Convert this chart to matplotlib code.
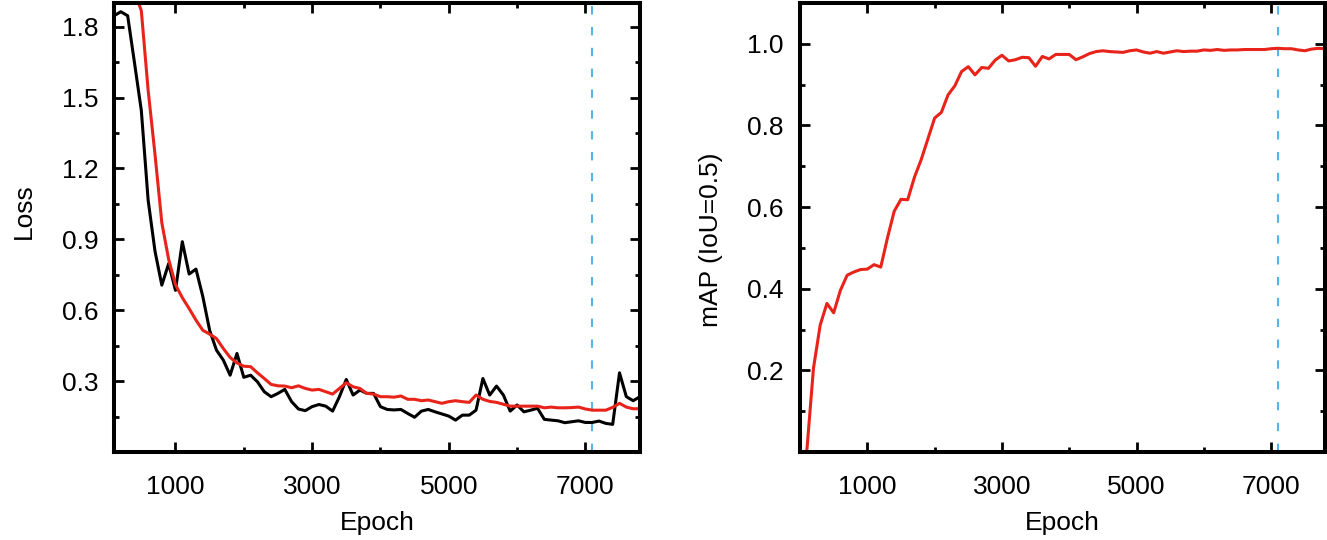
import matplotlib
matplotlib.use("Agg")
import matplotlib.pyplot as plt
from matplotlib.ticker import FixedLocator, NullFormatter, FormatStrFormatter

plt.rcParams['font.family'] = ['Liberation Sans', 'DejaVu Sans']

# ---------------- data ----------------
loss_epochs = list(range(100, 7900, 100))
train_loss = [1.846, 1.863, 1.846, 1.647, 1.445, 1.065, 0.850, 0.706, 0.797, 0.684,
              0.890, 0.753, 0.774, 0.658, 0.515, 0.431, 0.389, 0.325, 0.417, 0.316,
              0.325, 0.297, 0.255, 0.234, 0.248, 0.265, 0.213, 0.182, 0.175, 0.192,
              0.201, 0.194, 0.173, 0.234, 0.307, 0.241, 0.262, 0.248, 0.248, 0.192,
              0.180, 0.178, 0.180, 0.163, 0.147, 0.173, 0.180, 0.170, 0.161, 0.152,
              0.135, 0.156, 0.156, 0.177, 0.311, 0.241, 0.279, 0.241, 0.173, 0.199,
              0.170, 0.177, 0.185, 0.138, 0.135, 0.132, 0.124, 0.128, 0.132, 0.125,
              0.125, 0.131, 0.121, 0.117, 0.335, 0.234, 0.217, 0.234]
val_loss = [2.10, 2.04, 1.98, 1.95, 1.867, 1.53, 1.26, 0.97, 0.815, 0.708,
            0.653, 0.607, 0.558, 0.515, 0.499, 0.480, 0.438, 0.400, 0.377, 0.363,
            0.361, 0.335, 0.311, 0.286, 0.280, 0.279, 0.272, 0.280, 0.269, 0.262,
            0.265, 0.255, 0.245, 0.269, 0.293, 0.276, 0.269, 0.248, 0.245, 0.234,
            0.234, 0.232, 0.237, 0.223, 0.223, 0.217, 0.220, 0.213, 0.206, 0.213,
            0.217, 0.213, 0.210, 0.241, 0.223, 0.214, 0.210, 0.202, 0.194, 0.194,
            0.194, 0.194, 0.194, 0.187, 0.190, 0.187, 0.187, 0.188, 0.190, 0.182,
            0.177, 0.177, 0.177, 0.189, 0.206, 0.190, 0.183, 0.183]

map_epochs = list(range(0, 7900, 100))
map_values = [0.0, 0.0, 0.205, 0.311, 0.364, 0.341, 0.396, 0.433, 0.441, 0.447,
              0.448, 0.459, 0.453, 0.525, 0.590, 0.619, 0.618, 0.673, 0.716, 0.767,
              0.818, 0.832, 0.875, 0.897, 0.932, 0.944, 0.924, 0.942, 0.940, 0.960,
              0.972, 0.958, 0.961, 0.967, 0.966, 0.945, 0.969, 0.963, 0.974, 0.974,
              0.974, 0.961, 0.968, 0.976, 0.981, 0.983, 0.981, 0.980, 0.979, 0.983,
              0.985, 0.980, 0.977, 0.981, 0.977, 0.980, 0.983, 0.981, 0.982, 0.982,
              0.985, 0.984, 0.986, 0.984, 0.985, 0.985, 0.986, 0.986, 0.986, 0.986,
              0.988, 0.989, 0.988, 0.988, 0.985, 0.983, 0.987, 0.989, 0.988]

best_epoch = 7100

x_major = [1000, 3000, 5000, 7000]
x_minor = [2000, 4000, 6000]
loss_major = [0.3, 0.6, 0.9, 1.2, 1.5, 1.8]
loss_minor = [0.15, 0.45, 0.75, 1.05, 1.35, 1.65]
map_major = [0.2, 0.4, 0.6, 0.8, 1.0]
map_minor = [0.1, 0.3, 0.5, 0.7, 0.9]

# ---------------- figure ----------------
W, H = 1327, 540
fig = plt.figure(figsize=(W / 100, H / 100), dpi=100)

def px_axes(l, r, t, b):
    return fig.add_axes([l / W, 1 - b / H, (r - l) / W, (b - t) / H])

AX1 = (114, 640, 3, 452)
AX2 = (800, 1325, 3, 452)
ax1 = px_axes(*AX1)
ax2 = px_axes(*AX2)

RED = '#e8231a'
BLUE = '#56b4e9'
FS = 19

def style(ax, box, ymaj, ymin, ylabel, ypad, lab_right_px, lab_center_py):
    l, r, t, b = box
    ax.xaxis.set_major_locator(FixedLocator(x_major))
    ax.xaxis.set_minor_locator(FixedLocator(x_minor))
    ax.yaxis.set_major_locator(FixedLocator(ymaj))
    ax.yaxis.set_minor_locator(FixedLocator(ymin))
    ax.xaxis.set_minor_formatter(NullFormatter())
    ax.yaxis.set_minor_formatter(NullFormatter())
    ax.tick_params(which='both', direction='in', top=True, right=True,
                   width=2.0, labelsize=FS)
    ax.tick_params(which='major', length=7.5)
    ax.tick_params(which='minor', length=3.8)
    ax.tick_params(axis='x', which='both', pad=16.5)
    ax.tick_params(axis='y', which='both', pad=ypad)
    for s in ax.spines.values():
        s.set_linewidth(2.9)
        s.set_zorder(5)
    ax.set_xlabel('Epoch', fontsize=FS, labelpad=9)
    ax.set_ylabel(ylabel, fontsize=FS)
    ax.yaxis.set_label_coords((lab_right_px - l) / (r - l),
                              (b - lab_center_py) / (b - t))

ax1.plot(loss_epochs, train_loss, color='black', lw=2.2, zorder=3)
ax1.plot(loss_epochs, val_loss, color=RED, lw=2.2, zorder=3)
ax1.axvline(best_epoch, color=BLUE, lw=1.5, ls=(0, (4.0, 6.0)), zorder=2)
ax1.set_xlim(100, 7800)
ax1.set_ylim(0, 1.9)
style(ax1, AX1, loss_major, loss_minor, 'Loss', 11, 36, 211)

ax2.plot(map_epochs, map_values, color=RED, lw=2.2, zorder=3)
ax2.axvline(best_epoch, color=BLUE, lw=1.5, ls=(0, (4.0, 6.0)), zorder=2)
ax2.set_xlim(0, 7800)
ax2.set_ylim(0, 1.1)
ax2.yaxis.set_major_formatter(FormatStrFormatter('%.1f'))
style(ax2, AX2, map_major, map_minor, 'mAP (IoU=0.5)', 12, 723, 240)

fig.savefig('out.png', dpi=100)
